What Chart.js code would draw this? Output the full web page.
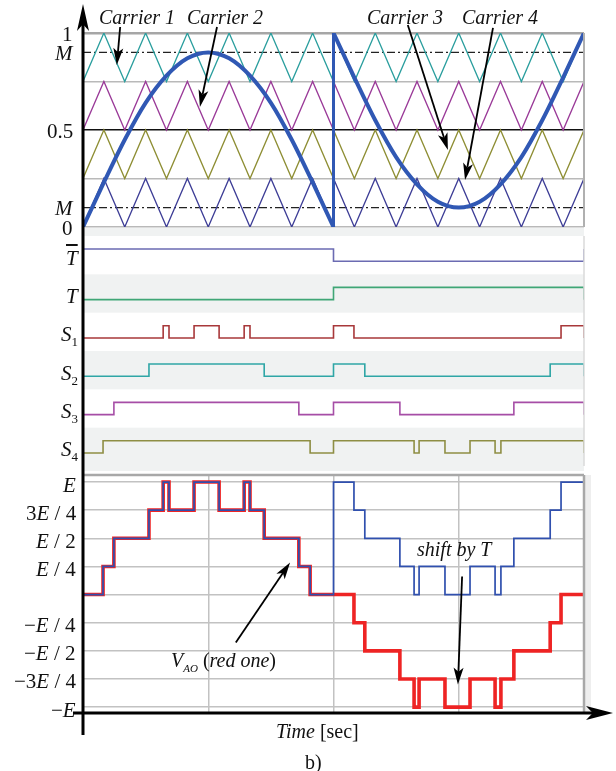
<!DOCTYPE html>
<html><head><meta charset="utf-8">
<script src="https://cdn.jsdelivr.net/npm/chart.js@4.4.1/dist/chart.umd.min.js"></script>
<style>
html,body{margin:0;padding:0;background:#fff;}
body{position:relative;width:616px;height:771px;overflow:hidden;font-family:"Liberation Serif","Times New Roman",serif;color:#111;}
canvas{position:absolute;left:0;}
.t{position:absolute;white-space:nowrap;font-size:20px;line-height:20px;z-index:6;}
.t.k{font-size:21px;line-height:21px;}
.t sub{font-size:13px;vertical-align:-5px;line-height:0;}
.strip{position:absolute;background:#eeeeee;}
</style></head><body>
<div class="strip" style="left:585px;top:475px;width:6px;height:238px"></div>
<canvas id="cTop" width="616" height="228" style="top:0"></canvas>
<canvas id="cMid" width="616" height="243" style="top:228px"></canvas>
<canvas id="cBot" width="616" height="300" style="top:471px"></canvas>
<canvas id="cAxes" width="616" height="771" style="top:0;z-index:5"></canvas>
<script>
// ================= DATA =================
// time measured in carrier periods; the window holds two half-cycles of 6 periods
const T_END = 12;

// --- top panel: carriers and modulating signal ---
const carrierTimes = [0,0.5,1,1.5,2,2.5,3,3.5,4,4.5,5,5.5,6, 6,6.5,7,7.5,8,8.5,9,9.5,10,10.5,11,11.5,12];
const carrierShape = [0,1,0,1,0,1,0,1,0,1,0,1,0, 1,0,1,0,1,0,1,0,1,0,1,0,1];
const carrierBase  = [0.75, 0.5, 0.25, 0];
const carrierSpan  = 0.25;
const carrierNames = ['Carrier 1','Carrier 2','Carrier 3','Carrier 4'];

const modTimesA = [0,0.5,1,1.5,2,2.5,3,3.5,4,4.5,5,5.5,6];
const modA      = [0,0.23,0.45,0.64,0.78,0.87,0.9,0.87,0.78,0.64,0.45,0.23,0];
const modTimesB = [6,6.5,7,7.5,8,8.5,9,9.5,10,10.5,11,11.5,12];
const modB      = [1,0.77,0.55,0.36,0.22,0.13,0.1,0.13,0.22,0.36,0.55,0.77,1];

const mLevels      = [0.9, 0.1];
const topGrid      = [0, 0.25, 0.5, 0.75, 1];
const topTickValues = [1, 0.9, 0.5, 0.1, 0];
const topTickLabels = ['1', '<i>M</i>', '0.5', '<i>M</i>', '0'];

// --- middle panel: gate signals (step times / levels) ---
const sigLabels = ['<i style="text-decoration:overline">T</i>', '<i>T</i>',
  '<i>S</i><sub>1</sub>', '<i>S</i><sub>2</sub>', '<i>S</i><sub>3</sub>', '<i>S</i><sub>4</sub>'];
const tbarTimes = [0, 6, 12];                 const tbarLevels = [1, 0, 1];
const tTimes    = [0, 6, 12];                 const tLevels    = [0, 1, 0];
const s1Times = [0,1.92,2.06,2.66,3.26,3.86,4.0,6,6.49,11.45,12];
const s1Levels = [0,1,0,1,0,1,0,1,0,1,0];
const s2Times = [0,1.58,4.34,6,6.75,11.19,12];
const s2Levels = [0,1,0,1,0,1,0];
const s3Times = [0,0.74,5.17,6,7.59,10.32,12];
const s3Levels = [0,1,0,1,0,1,0];
const s4Times = [0,0.48,5.44,6,7.93,8.05,8.67,9.27,9.87,10.01,12];
const s4Levels = [0,1,0,1,0,1,0,1,0,1,0];

// --- bottom panel: output voltage in units of E/4 ---
const vaoTimes   = [0,0.48,0.74,1.58,1.92,2.06,2.66,3.26,3.86,4.0,4.34,5.17,5.44,
                    6,6.49,6.75,7.59,7.93,8.05,8.67,9.27,9.87,10.01,10.32,11.19,11.45,12];
const redLevels  = [0,1,2,3,4,3,4,3,4,3,2,1,0, 0,-1,-2,-3,-4,-3,-4,-3,-4,-3,-2,-1,0,0];
const blueLevels = [0,1,2,3,4,3,4,3,4,3,2,1,0, 4,3,2,1,0,1,0,1,0,1,2,3,4,4];
const botGrid = [-4,-3,-2,-1,0,1,2,3,4];
const botTickValues = [4,3,2,1,-1,-2,-3,-4];
const botTickLabels = ['<i>E</i>','3<i>E</i> / 4','<i>E</i> / 2','<i>E</i> / 4',
  '−<i>E</i> / 4','−<i>E</i> / 2','−3<i>E</i> / 4','−<i>E</i>'];
const timeGrid = [0, 3, 6, 9, 12];

// ================= STYLE / HELPERS =================
const carrierColors = ['#2a9e9e','#9a3a98','#8e8e34','#3d3d96'];
const sigColors = ['#6b6bb2','#3fa676','#a8383a','#2fa6a6','#a64ea6','#8e8e44'];
const MOD_COLOR = '#3058b4';

function head(ctx, x1, y1, x2, y2, len, half) {
  const a = Math.atan2(y2 - y1, x2 - x1), c = Math.cos(a), s = Math.sin(a);
  const bx = x2 - len * c, by = y2 - len * s;
  const nx = x2 - len * 0.75 * c, ny = y2 - len * 0.75 * s;
  ctx.beginPath();
  ctx.moveTo(x2, y2);
  ctx.lineTo(bx - half * s, by + half * c);
  ctx.lineTo(nx, ny);
  ctx.lineTo(bx + half * s, by - half * c);
  ctx.closePath(); ctx.fill();
  return [nx, ny];
}
function arrowData(chart, from, to) {
  const ctx = chart.ctx, X = chart.scales.x, Y = chart.scales.y;
  const x1 = X.getPixelForValue(from[0]), y1 = Y.getPixelForValue(from[1]);
  const x2 = X.getPixelForValue(to[0]), y2 = Y.getPixelForValue(to[1]);
  ctx.save();
  ctx.fillStyle = '#000'; ctx.strokeStyle = '#000'; ctx.lineWidth = 1.8;
  const [nx, ny] = head(ctx, x1, y1, x2, y2, 17, 5);
  ctx.beginPath(); ctx.moveTo(x1, y1); ctx.lineTo(nx, ny); ctx.stroke();
  ctx.restore();
}
function rightBorder(chart, color, w) {
  const {ctx, chartArea: a} = chart;
  ctx.save(); ctx.strokeStyle = color; ctx.lineWidth = w;
  ctx.beginPath(); ctx.moveTo(a.right, a.top); ctx.lineTo(a.right, a.bottom); ctx.stroke();
  ctx.restore();
}
const pts = (ts, vs, f) => ts.map((t, i) => ({x: t, y: f ? f(vs[i]) : vs[i]}));

const baseOpts = (padding, yScale, xGrid) => ({
  responsive: false, animation: false, events: [],
  layout: {padding},
  plugins: {legend: {display: false}, tooltip: {enabled: false}},
  elements: {point: {radius: 0}, line: {fill: false}},
  scales: {
    x: Object.assign({type: 'linear', min: 0, max: T_END,
      ticks: {display: false}, border: {display: false},
      grid: {display: false, drawTicks: false},
      afterFit(s) { s.height = 0; }}, xGrid || {}),
    y: Object.assign({ticks: {display: false}, border: {display: false},
      grid: {display: false, drawTicks: false},
      afterFit(s) { s.width = 0; }}, yScale)
  }
});

// ================= TOP CHART =================
const topDatasets = [];
topDatasets.push({data: pts(modTimesA, modA), borderColor: MOD_COLOR, borderWidth: 4,
  cubicInterpolationMode: 'monotone', tension: 0.4, order: 0});
topDatasets.push({data: pts(modTimesB, modB), borderColor: MOD_COLOR, borderWidth: 4,
  cubicInterpolationMode: 'monotone', tension: 0.4, order: 0});
topDatasets.push({data: [{x: modTimesA[modTimesA.length-1], y: modA[modA.length-1]},
  {x: modTimesB[0], y: modB[0]}], borderColor: MOD_COLOR, borderWidth: 3, order: 0});
carrierBase.forEach((b, k) => topDatasets.push({
  label: carrierNames[k],
  data: pts(carrierTimes, carrierShape, v => b + v * carrierSpan),
  borderColor: carrierColors[k], borderWidth: 1.3, order: 1}));
mLevels.forEach(m => topDatasets.push({data: [{x: 0, y: m}, {x: T_END, y: m}],
  borderColor: '#222', borderWidth: 1.2, borderDash: [8, 3, 2, 3], order: 2}));

const chTop = new Chart(document.getElementById('cTop'), {
  type: 'line',
  data: {datasets: topDatasets},
  options: baseOpts({left: 83, right: 32, top: 33, bottom: 1}, {
    min: 0, max: 1,
    afterBuildTicks(s) { s.ticks = topGrid.map(v => ({value: v})); },
    grid: {display: true, drawTicks: false,
      color: c => c.tick && c.tick.value === 0.5 ? '#111' : (c.tick && c.tick.value === 1 ? '#a6a6a6' : '#b9b9b9'),
      lineWidth: c => c.tick && c.tick.value === 1 ? 2.5 : 1.5}
  }),
  plugins: [{id: 'topDeco', afterDraw(chart) {
    rightBorder(chart, '#b0b0b0', 2);
    arrowData(chart, [0.89, 1.031], [0.81, 0.835]);
    arrowData(chart, [3.21, 1.031], [2.80, 0.619]);
    arrowData(chart, [7.78, 1.041], [8.74, 0.397]);
    arrowData(chart, [9.82, 1.026], [9.15, 0.242]);
  }}]
});

// ================= MIDDLE CHART =================
const sigTimes = [tbarTimes, tTimes, s1Times, s2Times, s3Times, s4Times];
const sigLevelArr = [tbarLevels, tLevels, s1Levels, s2Levels, s3Levels, s4Levels];
const midDatasets = sigTimes.map((ts, r) => ({
  data: pts(ts, sigLevelArr[r], v => r + 0.66 - 0.32 * v),
  stepped: 'before', borderColor: sigColors[r], borderWidth: 1.6
}));
const chMid = new Chart(document.getElementById('cMid'), {
  type: 'line',
  data: {datasets: midDatasets},
  options: baseOpts({left: 83, right: 32, top: 8, bottom: 5}, {min: 0, max: 6, reverse: true}),
  plugins: [{id: 'bands', beforeDraw(chart) {
    const {ctx, chartArea: a, scales: {y}} = chart;
    ctx.save();
    ctx.fillStyle = '#f0f2f2';
    ctx.fillRect(a.left, 0, a.right - a.left, chart.height);
    ctx.fillStyle = '#ffffff';
    for (let r = 0; r < 6; r += 2) {
      const y0 = y.getPixelForValue(r), y1 = y.getPixelForValue(r + 1);
      ctx.fillRect(a.left, y0, a.right - a.left, y1 - y0);
    }
    ctx.restore();
  }, afterDraw(chart) { rightBorder(chart, '#dadada', 1.5); }}]
});

// ================= BOTTOM CHART =================
const chBot = new Chart(document.getElementById('cBot'), {
  type: 'line',
  data: {datasets: [
    {data: pts(vaoTimes, redLevels), stepped: 'before', borderColor: '#ee2424', borderWidth: 3.6, order: 1},
    {data: pts(vaoTimes, blueLevels), stepped: 'before', borderColor: '#3050ae', borderWidth: 1.7, order: 0}
  ]},
  options: baseOpts({left: 83, right: 32, top: 4, bottom: 58}, {
    min: -4.21, max: 4.25,
    afterBuildTicks(s) { s.ticks = botGrid.map(v => ({value: v})); },
    grid: {display: true, drawTicks: false, color: '#c2c2c2', lineWidth: 1.5}
  }, {
    afterBuildTicks(s) { s.ticks = timeGrid.map(v => ({value: v})); },
    grid: {display: true, drawTicks: false, color: '#c2c2c2', lineWidth: 1.5}
  }),
  plugins: [{id: 'botDeco', afterDraw(chart) {
    const {ctx, chartArea: a} = chart;
    ctx.save(); ctx.strokeStyle = '#a8a8a8'; ctx.lineWidth = 2.5;
    ctx.beginPath(); ctx.moveTo(a.left, a.top); ctx.lineTo(a.right, a.top); ctx.stroke();
    ctx.restore();
    rightBorder(chart, '#a8a8a8', 2.5);
    arrowData(chart, [3.66, -1.7], [4.96, 1.14]);
    arrowData(chart, [9.08, 0.64], [8.98, -3.2]);
  }}]
});

// ================= AXES OVERLAY =================
(function () {
  const ax = document.getElementById('cAxes').getContext('2d');
  const xl = chTop.chartArea.left;
  const yb = 471 + chBot.chartArea.bottom;
  ax.fillStyle = '#000'; ax.strokeStyle = '#000'; ax.lineWidth = 3;
  ax.beginPath(); ax.moveTo(xl, 735); ax.lineTo(xl, 22); ax.stroke();
  head(ax, xl, 735, xl, 4, 27, 6);
  ax.beginPath(); ax.moveTo(73, yb); ax.lineTo(595, yb); ax.stroke();
  head(ax, 73, yb, 613, yb, 27, 7);
})();

// ================= TEXT =================
function place(html, x, y, align) {
  const d = document.createElement('div');
  d.className = 't k'; d.innerHTML = html;
  document.body.appendChild(d);
  const w = d.offsetWidth, h = d.offsetHeight;
  const left = align === 'right' ? x - w : (align === 'center' ? x - w / 2 : x);
  d.style.left = left + 'px'; d.style.top = (y - h / 2) + 'px';
}
function placeBase(html, x, baseline) {
  const d = document.createElement('div');
  d.className = 't'; d.innerHTML = html;
  document.body.appendChild(d);
  d.style.left = x + 'px'; d.style.top = (baseline - 17) + 'px';
}
topTickValues.forEach((v, i) => place(topTickLabels[i], 73, chTop.scales.y.getPixelForValue(v) + 1, 'right'));
sigLabels.forEach((lab, r) => place(lab, 78, 228 + chMid.scales.y.getPixelForValue(r + 0.5) + 3, 'right'));
botTickValues.forEach((v, i) => place(botTickLabels[i], 76, 471 + chBot.scales.y.getPixelForValue(v) + 3, 'right'));

placeBase('<i>' + carrierNames[0] + '</i>', 99, 24);
placeBase('<i>' + carrierNames[1] + '</i>', 187, 24);
placeBase('<i>' + carrierNames[2] + '</i>', 367, 24);
placeBase('<i>' + carrierNames[3] + '</i>', 462, 24);
placeBase('<i>shift by T</i>', 417, 556);
placeBase('<i>V</i><sub style="font-style:italic;font-size:11px">AO</sub> (<i>red one</i>)', 171, 667);
placeBase('<i>Time</i> [sec]', 276, 738);
placeBase('b)', 305, 769);
</script>
</body></html>
